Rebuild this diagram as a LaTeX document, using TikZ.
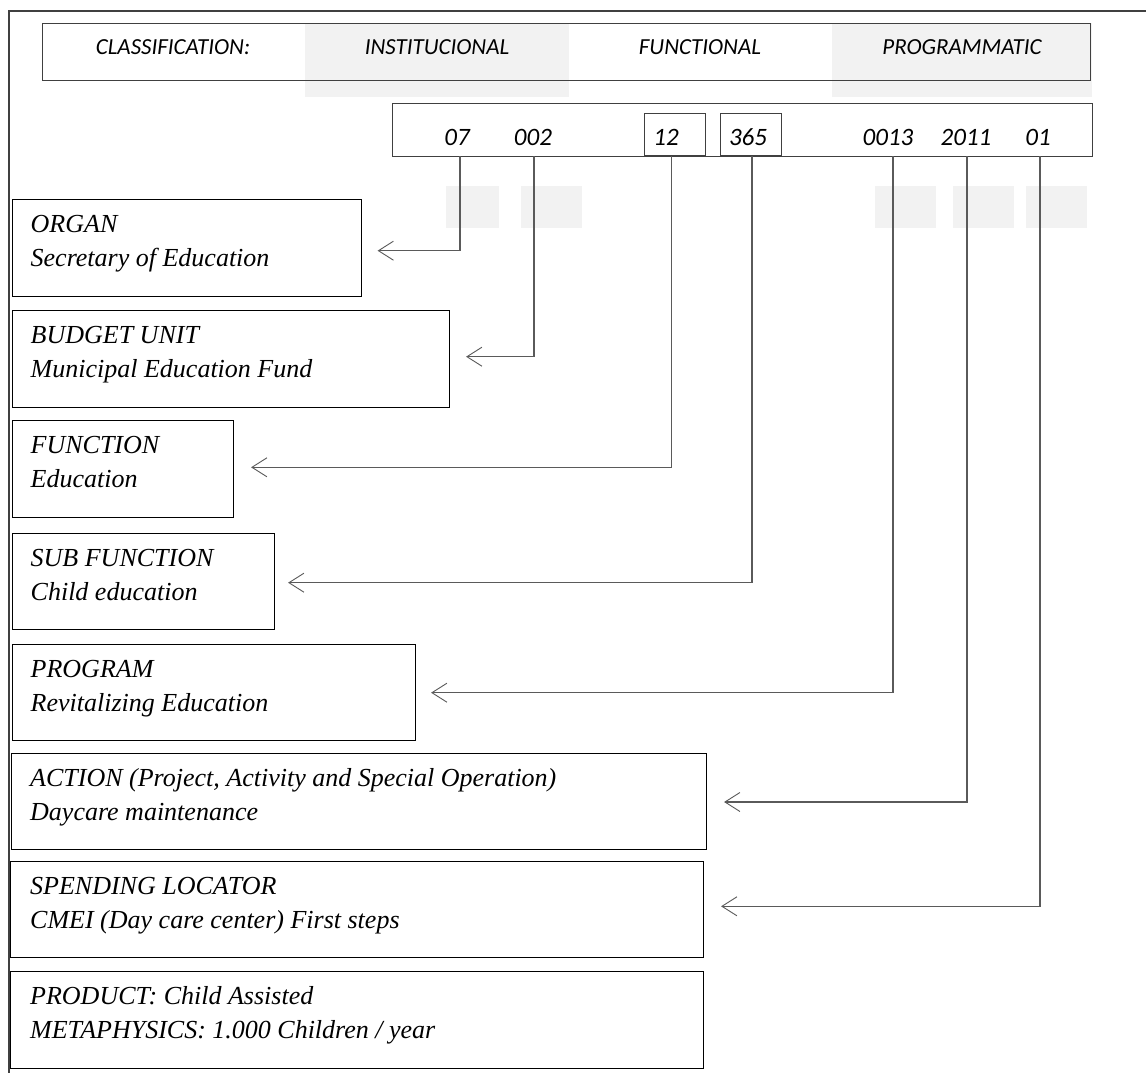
\documentclass[tikz,border=0pt]{standalone}
\usepackage{fontspec}
\setmainfont{Liberation Serif}
\newfontfamily\calfont{Carlito}
\usetikzlibrary{arrows.meta}
\definecolor{greyfill}{HTML}{F2F2F2}
\definecolor{framecol}{HTML}{404040}
\definecolor{conncol}{HTML}{5A5A5A}
\tikzset{
  frameline/.style={draw=framecol, line width=1.1pt},
  greyblk/.style={fill=greyfill, draw=none},
  hdr/.style={font=\calfont\itshape\fontsize{23}{27}\selectfont, anchor=base, inner sep=0pt},
  codetxt/.style={font=\calfont\itshape\fontsize{25}{30}\selectfont, anchor=base, inner sep=0pt},
  codebox/.style={draw=framecol, line width=1.1pt, rectangle, anchor=north west, inner sep=0pt},
  item/.style={draw=black, line width=1.1pt, rectangle, anchor=north west, inner sep=0pt},
  itemtxt/.style={font=\itshape\fontsize{26}{30}\selectfont, anchor=base west, inner sep=0pt},
  conn/.style={draw=conncol, line width=1.1pt, -{Straight Barb[length=15pt,width=19pt,line width=0.9pt]}}
}
\begin{document}
\begin{tikzpicture}[x=1pt,y=-1pt]
\useasboundingbox (0,0) rectangle (1146,1073);
\fill[white] (0,0) rectangle (1146,1073);

% outer frame (top and left)
\draw[frameline] (1146,11) -- (9,11) -- (9,1073);

% grey background blocks
\fill[greyblk] (305,23) rectangle (569,97);
\fill[greyblk] (832,23) rectangle (1092,97);
\fill[greyblk] (446,186) rectangle (499,228);
\fill[greyblk] (521,186) rectangle (582,228);
\fill[greyblk] (875,186) rectangle (936,228);
\fill[greyblk] (953,186) rectangle (1014,228);
\fill[greyblk] (1026,186) rectangle (1087,228);

% header box
\node[codebox, minimum width=1048pt, minimum height=57pt] (hbox) at (42,23) {};
\node[hdr] (hclass) at (173,55) {CLASSIFICATION:};
\node[hdr] (hinst) at (437,55) {INSTITUCIONAL};
\node[hdr] (hfunc) at (700,55) {FUNCTIONAL};
\node[hdr] (hprog) at (962,55) {PROGRAMMATIC};

% code box
\node[codebox, minimum width=700pt, minimum height=53pt] (cbox) at (392,103) {};
\node[codebox, minimum width=61pt, minimum height=42pt] (b12) at (644,113) {};
\node[codebox, minimum width=61pt, minimum height=42pt] (b365) at (720,113) {};
\node[codetxt] (t07) at (457,145.5) {07};
\node[codetxt] (t002) at (533,145.5) {002};
\node[codetxt] (t12) at (666,145.5) {12};
\node[codetxt] (t365) at (748,145.5) {365};
\node[codetxt] (t0013) at (888,145.5) {0013};
\node[codetxt] (t2011) at (966,145.5) {2011};
\node[codetxt] (t01) at (1038,145.5) {01};

% left boxes
\node[item, minimum width=349pt, minimum height=96.5pt] (organ) at (11.5,199.3) {};
\node[item, minimum width=437pt, minimum height=96.7pt] (budget) at (11.5,310) {};
\node[item, minimum width=221.5pt, minimum height=96.5pt] (func) at (11.5,420) {};
\node[item, minimum width=262.5pt, minimum height=96pt] (subf) at (11.5,533.3) {};
\node[item, minimum width=403.5pt, minimum height=96pt] (prog) at (11.5,644) {};
\node[item, minimum width=695pt, minimum height=96pt] (action) at (11,753) {};
\node[item, minimum width=693pt, minimum height=96.6pt] (spend) at (10,860.7) {};
\node[item, minimum width=693pt, minimum height=96.7pt] (prod) at (10,971) {};

% box texts
\node[itemtxt] (organa) at (30.5,232.3) {ORGAN};
\node[itemtxt] (organb) at (30.5,266.3) {Secretary of Education};
\node[itemtxt] (budgeta) at (30.5,343) {BUDGET UNIT};
\node[itemtxt] (budgetb) at (30.5,377) {Municipal Education Fund};
\node[itemtxt] (funca) at (30.5,453) {FUNCTION};
\node[itemtxt] (funcb) at (30.5,487) {Education};
\node[itemtxt] (subfa) at (30.5,566.3) {SUB FUNCTION};
\node[itemtxt] (subfb) at (30.5,600.3) {Child education};
\node[itemtxt] (proga) at (30.5,677) {PROGRAM};
\node[itemtxt] (progb) at (30.5,711) {Revitalizing Education};
\node[itemtxt] (actiona) at (30,786.5) {ACTION (Project, Activity and Special Operation)};
\node[itemtxt] (actionb) at (30,820.5) {Daycare maintenance};
\node[itemtxt] (spenda) at (30,894) {SPENDING LOCATOR};
\node[itemtxt] (spendb) at (30,928) {CMEI (Day care center) First steps};
\node[itemtxt] (proda) at (30,1004) {PRODUCT: Child Assisted};
\node[itemtxt] (prodb) at (30,1038) {METAPHYSICS: 1.000 Children / year};

% connectors
\coordinate (s07) at (460,156);
\coordinate (s002) at (534,156);
\coordinate (s12) at (671.5,156);
\coordinate (s365) at (752,156);
\coordinate (s0013) at (893,156);
\coordinate (s2011) at (967,156);
\coordinate (s01) at (1040,156);
\draw[conn] (s07) |- ([xshift=16pt]organ.east |- 0,250.7);
\draw[conn] (s002) |- ([xshift=16.5pt]budget.east |- 0,356.7);
\draw[conn] (s12) |- ([xshift=17pt]func.east |- 0,467.3);
\draw[conn] (s365) |- ([xshift=13pt]subf.east |- 0,582.7);
\draw[conn] (s0013) |- ([xshift=15pt]prog.east |- 0,692.7);
\draw[conn] (s2011) |- ([xshift=17pt]action.east |- 0,802);
\draw[conn] (s01) |- ([xshift=17pt]spend.east |- 0,906.3);
\end{tikzpicture}
\end{document}
